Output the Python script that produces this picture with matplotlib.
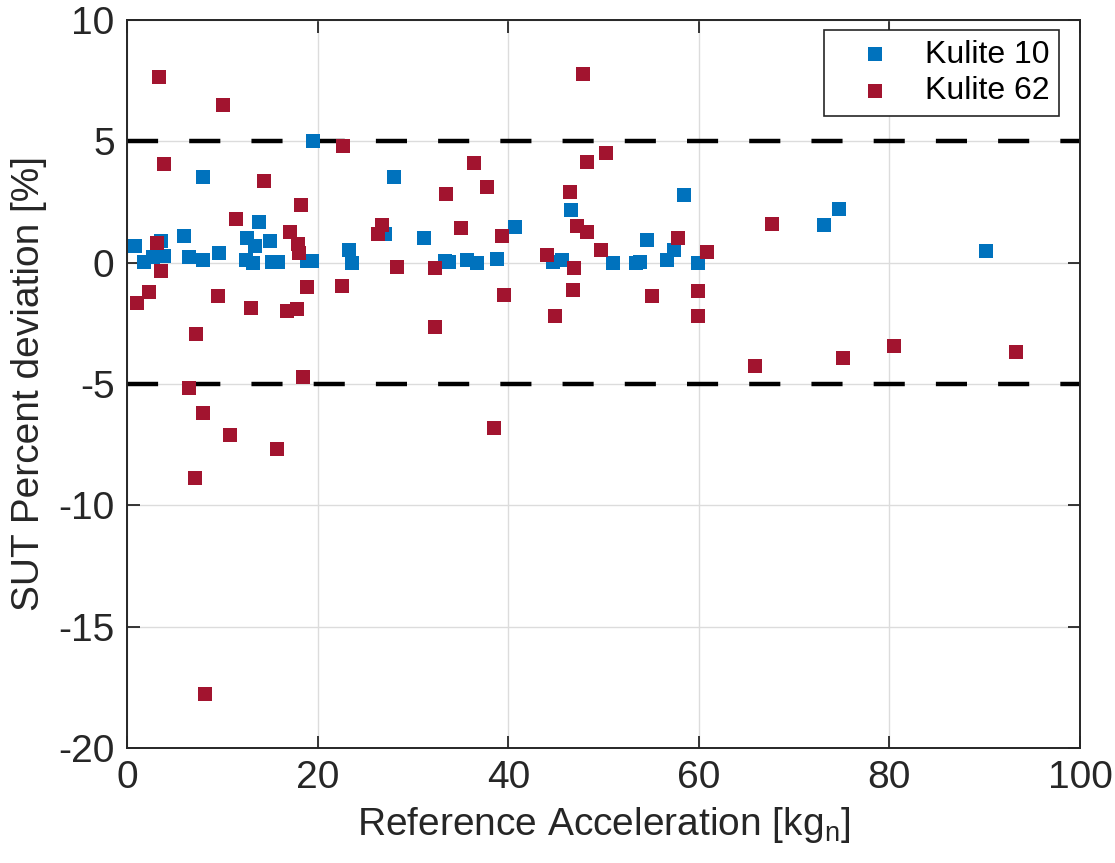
import matplotlib
matplotlib.use('Agg')
from matplotlib import pyplot as plt

plt.rcParams['font.family'] = ['Liberation Sans', 'DejaVu Sans']
plt.rcParams['mathtext.default'] = 'regular'
plt.rcParams['axes.unicode_minus'] = False

# Kulite 10 (blue)
k10_x = [0.84, 1.78, 2.76, 3.53, 3.85, 6.0, 6.5, 7.94, 8.0, 9.65,
         12.56, 12.5, 13.25, 13.43, 13.85, 14.99, 15.2, 15.88, 18.85, 19.4, 19.55,
         23.3, 23.57, 27.07, 28.02, 31.2, 33.37, 33.79, 35.64, 36.69, 38.79, 40.71,
         44.67, 45.68, 46.56, 51.03, 53.41, 53.83, 54.53, 56.63, 57.4, 58.48, 59.88,
         73.14, 74.74, 90.14]
k10_y = [0.68, 0.03, 0.24, 0.88, 0.27, 1.09, 0.24, 3.51, 0.13, 0.41,
         1.02, 0.1, 0.0, 0.7, 1.68, 0.9, 0.02, 0.02, 0.07, 0.06, 5.02,
         0.51, 0.0, 1.2, 3.54, 1.01, 0.08, 0.02, 0.13, -0.01, 0.17, 1.45,
         0.03, 0.1, 2.19, 0.0, 0.0, 0.04, 0.93, 0.1, 0.54, 2.78, 0.0,
         1.57, 2.23, 0.47]

# Kulite 62 (red)
k62_x = [1.02, 2.31, 3.11, 3.39, 3.53, 3.92, 6.51, 7.14, 7.24, 7.94, 8.18, 9.52,
         10.04, 10.81, 11.4, 13.01, 14.41, 15.77, 16.82, 17.1, 17.8, 17.9, 18.0,
         18.26, 18.5, 18.92, 22.5, 22.7, 26.3, 26.79, 28.3, 32.32, 32.35, 33.44,
         35.05, 36.41, 37.74, 38.5, 39.32, 39.56, 44.1, 44.91, 46.49, 46.77, 46.94,
         47.25, 47.88, 48.31, 48.31, 49.77, 50.28, 55.12, 57.78, 59.95, 59.95,
         60.89, 65.9, 67.65, 75.17, 80.52, 93.28]
k62_y = [-1.66, -1.2, 0.8, 7.66, -0.35, 4.06, -5.16, -8.87, -2.95, -6.21, -17.79, -1.38,
         6.49, -7.11, 1.79, -1.86, 3.37, -7.67, -1.99, 1.27, -1.89, 0.75, 0.38,
         2.38, -4.7, -1.0, -0.97, 4.81, 1.2, 1.55, -0.17, -0.24, -2.67, 2.85,
         1.43, 4.09, 3.12, -6.82, 1.11, -1.34, 0.33, -2.19, 2.92, -1.13, -0.2,
         1.52, 7.79, 4.14, 1.27, 0.52, 4.52, -1.37, 1.0, -1.16, -2.19,
         0.42, -4.25, 1.59, -3.92, -3.43, -3.7]

limits = [-5, 5]

fig = plt.figure(figsize=(11.15, 8.63), dpi=100)
ax = fig.add_axes([0.114, 0.1333, 0.8546, 0.8435])

ax.scatter(k10_x, k10_y, marker='s', s=105, color='#0072BD', linewidths=0,
           label='Kulite 10', zorder=3)
ax.scatter(k62_x, k62_y, marker='s', s=105, color='#A2142F', linewidths=0,
           label='Kulite 62', zorder=3)
for lim in limits:
    ax.axhline(lim, color='black', linewidth=3.2, linestyle=(0, (7, 7)), zorder=2)

# Axis limits
ax.set_xlim(0, 100)
ax.set_ylim(-20, 10)
ax.set_xticks([0, 20, 40, 60, 80, 100])
ax.set_yticks([-20, -15, -10, -5, 0, 5, 10])
ax.grid(True, color='#dcdcdc', linewidth=1.0, zorder=0)
ax.set_axisbelow(True)

ax.tick_params(direction='in', length=9, width=1.3, top=True, right=True,
               labelsize=28, colors='#262626', pad=9)
for sp in ax.spines.values():
    sp.set_color('#262626')
    sp.set_linewidth(1.4)

ax.set_xlabel('Reference Acceleration [kg$_n$]', fontsize=28, color='#262626',
              labelpad=6)
ax.set_ylabel('SUT Percent deviation [%]', fontsize=28, color='#262626',
              labelpad=8)

leg = ax.legend(loc='upper right', fontsize=23, fancybox=False, framealpha=1,
                edgecolor='#262626', markerscale=1.0, handletextpad=0.25,
                handlelength=2.6, borderpad=0.3, labelspacing=0.2,
                borderaxespad=0, bbox_to_anchor=(0.978, 0.986))
leg.get_frame().set_linewidth(1.2)

fig.savefig('out.png', dpi=100)
